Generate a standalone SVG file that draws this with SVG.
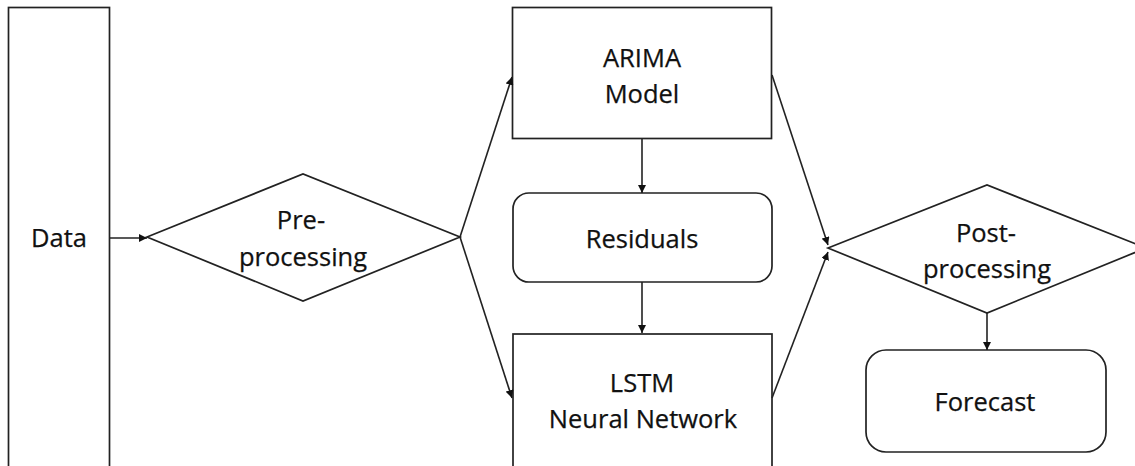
<svg xmlns="http://www.w3.org/2000/svg" width="1135" height="466" viewBox="0 0 1135 466">
<style>
.shape{fill:#fff;stroke:#222;stroke-width:1.7}
.lbl{font-family:"Open Sans","Liberation Sans",sans-serif;font-size:25.5px;fill:#111;stroke:#111;stroke-width:0.25;text-anchor:middle}
.conn{fill:none;stroke:#222;stroke-width:1.6;marker-end:url(#ah)}
</style>
<defs>
<marker id="ah" viewBox="0 0 10 10" refX="10" refY="5" markerWidth="8" markerHeight="8" markerUnits="userSpaceOnUse" orient="auto">
<path d="M0,0 L10,5 L0,10 z" fill="#111"/>
</marker>
</defs>
<rect width="1135" height="466" fill="#fff"/>
<g id="data">
<rect class="shape" x="8.5" y="7.5" width="101" height="470"/>
<text class="lbl" x="59" y="247">Data</text>
</g>
<g id="preprocessing">
<polygon class="shape" points="147,237 303,174 460,237 303,301"/>
<text class="lbl" x="301" y="229">Pre-</text>
<text class="lbl" x="303" y="266">processing</text>
</g>
<g id="arima">
<rect class="shape" x="512.5" y="7.5" width="259" height="131"/>
<text class="lbl" x="642" y="67">ARIMA</text>
<text class="lbl" x="642" y="103">Model</text>
</g>
<g id="residuals">
<rect class="shape" x="513" y="193" width="259" height="89" rx="16" ry="16"/>
<text class="lbl" x="642" y="248">Residuals</text>
</g>
<g id="lstm">
<rect class="shape" x="513" y="334" width="259" height="150"/>
<text class="lbl" x="642" y="392">LSTM</text>
<text class="lbl" x="643" y="428">Neural Network</text>
</g>
<g id="postprocessing">
<polygon class="shape" points="828,248 987,185 1146,248 987,313"/>
<text class="lbl" x="986" y="242">Post-</text>
<text class="lbl" x="987" y="278">processing</text>
</g>
<g id="forecast">
<rect class="shape" x="866" y="350" width="240" height="102" rx="20" ry="20"/>
<text class="lbl" x="985" y="411">Forecast</text>
</g>
<g id="connectors">
<line class="conn" x1="110" y1="238" x2="147" y2="238"/>
<line class="conn" x1="460" y1="237" x2="512" y2="77"/>
<line class="conn" x1="460" y1="237" x2="512" y2="398"/>
<line class="conn" x1="642" y1="139" x2="642" y2="193"/>
<line class="conn" x1="642" y1="282" x2="642" y2="333"/>
<line class="conn" x1="772" y1="75" x2="828" y2="245"/>
<line class="conn" x1="772" y1="398" x2="828" y2="252"/>
<line class="conn" x1="987" y1="313" x2="987" y2="350"/>
</g>
</svg>
